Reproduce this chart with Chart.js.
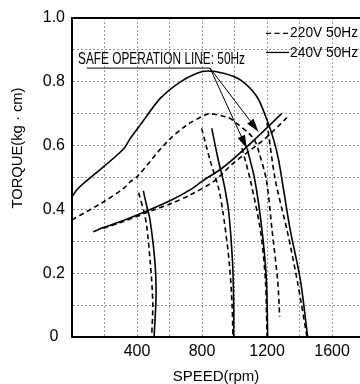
<!DOCTYPE html>
<html>
<head>
<meta charset="utf-8">
<script src="https://cdn.jsdelivr.net/npm/chart.js@4.4.1/dist/chart.umd.min.js"></script>
<style>
  html, body { margin: 0; padding: 0; background: #fff; }
  #wrap { width: 360px; height: 384px; }
</style>
</head>
<body>
<div id="wrap"><canvas id="torqueChart"></canvas></div>
<script>
const seriesLabels = ["220V 50Hz", "240V 50Hz"];
const safeLabel = "SAFE OPERATION LINE: 50Hz";

const speedGrid = [0, 200, 400, 600, 800, 1000, 1200, 1400, 1600];
const speedTicks = [400, 800, 1200, 1600];
const torqueTicks = [0, 0.2, 0.4, 0.6, 0.8, 1.0];
const torqueTickLabels = ["0", "0.2", "0.4", "0.6", "0.8", "1.0"];

// maximum torque curves (rpm / kg·cm)
const max240Speed = [0, 40, 195, 318, 359, 420, 543, 667, 769, 833, 932, 1036, 1138, 1200, 1241, 1271, 1302, 1343, 1405, 1450];
const max240Torque = [0.44, 0.467, 0.534, 0.59, 0.623, 0.665, 0.748, 0.80, 0.827, 0.834, 0.827, 0.806, 0.753, 0.68, 0.618, 0.555, 0.461, 0.335, 0.179, 0];
const max220Speed = [0, 195, 318, 359, 400, 585, 708, 821, 852, 964, 1025, 1087, 1128, 1150, 1196, 1231, 1265, 1278];
const max220Torque = [0.367, 0.424, 0.466, 0.487, 0.502, 0.612, 0.665, 0.696, 0.70, 0.687, 0.665, 0.639, 0.612, 0.58, 0.492, 0.335, 0.179, 0.064];

// safe operation lines
const safe240Speed = [131, 193, 295, 460, 603, 726, 810, 923, 1077, 1290];
const safe240Torque = [0.33, 0.343, 0.361, 0.395, 0.427, 0.461, 0.492, 0.529, 0.597, 0.70];
const safe220Speed = [193, 295, 501, 603, 726, 870, 993, 1179, 1327];
const safe220Torque = [0.341, 0.358, 0.398, 0.417, 0.445, 0.487, 0.545, 0.618, 0.69];

// speed-torque curves at each setting
const load500s240 = [439, 460, 480, 511, 517, 505];
const load500t240 = [0.458, 0.41, 0.367, 0.231, 0.126, 0];
const load500s220 = [410, 445, 460, 482, 497, 490];
const load500t220 = [0.452, 0.388, 0.346, 0.231, 0.106, 0];
const load1000s240 = [860, 900, 935, 965, 988, 995, 995];
const load1000t240 = [0.654, 0.555, 0.48, 0.388, 0.231, 0.1, 0];
const load1000s220 = [798, 849, 900, 930, 968, 985, 990];
const load1000t220 = [0.654, 0.555, 0.47, 0.388, 0.231, 0.1, 0];
const load1200s240 = [1077, 1125, 1169, 1196, 1204];
const load1200t240 = [0.592, 0.492, 0.335, 0.179, 0];
const load1200s220 = [1046, 1097, 1159, 1190, 1200];
const load1200t220 = [0.592, 0.492, 0.335, 0.179, 0];
const load1450s220 = [1200, 1251, 1323, 1385, 1446];
const load1450t220 = [0.672, 0.492, 0.335, 0.179, 0];

// leader lines of the safe operation note
const leaderASpeed = [92, 849, 1146];
const leaderATorque = [0.843, 0.843, 0.644];
const leaderBSpeed = [849, 1075];
const leaderBTorque = [0.843, 0.592];

const DASH = [5, 3.5];
const FONT = "'Liberation Sans', Arial, sans-serif";

function pts(xs, ys) {
  return xs.map((x, i) => ({ x: x, y: ys[i] }));
}

function curve(xs, ys, dashed, label) {
  return {
    label: label || "",
    data: pts(xs, ys),
    showLine: true,
    borderColor: "#000",
    borderWidth: 1.6,
    borderDash: dashed ? DASH : [],
    pointRadius: 0,
    tension: 0.3,
    fill: false,
  };
}

function leader(xs, ys) {
  return {
    data: pts(xs, ys),
    showLine: true,
    borderColor: "#000",
    borderWidth: 1,
    pointRadius: 0,
    tension: 0,
    arrow: true,
  };
}

function drawCondensed(ctx, text, x, y, size, width, rot) {
  ctx.save();
  ctx.font = size + "px " + FONT;
  const w = ctx.measureText(text).width;
  ctx.translate(x, y);
  if (rot) ctx.rotate(rot);
  ctx.scale(width / w, 1);
  ctx.fillStyle = "#000";
  ctx.textBaseline = "middle";
  ctx.textAlign = rot ? "center" : "left";
  ctx.fillText(text, 0, 0);
  ctx.restore();
}

const annotate = {
  id: "annotate",
  afterDatasetsDraw(chart) {
    const { ctx, chartArea } = chart;
    const xs = chart.scales.x;
    const ys = chart.scales.y;

    // top frame
    ctx.save();
    ctx.strokeStyle = "#000";
    ctx.lineWidth = 2;
    ctx.beginPath();
    ctx.moveTo(chartArea.left - 1, chartArea.top);
    ctx.lineTo(chartArea.right, chartArea.top);
    ctx.stroke();
    ctx.restore();

    // arrow heads
    chart.data.datasets.forEach((ds, i) => {
      if (!ds.arrow) return;
      const p = chart.getDatasetMeta(i).data;
      const a = p[p.length - 2];
      const b = p[p.length - 1];
      const ang = Math.atan2(b.y - a.y, b.x - a.x);
      ctx.save();
      ctx.translate(b.x, b.y);
      ctx.rotate(ang);
      ctx.beginPath();
      ctx.moveTo(0, 0);
      ctx.lineTo(-13, -4);
      ctx.lineTo(-13, 4);
      ctx.closePath();
      ctx.fillStyle = "#000";
      ctx.fill();
      ctx.restore();
    });

    // note text
    drawCondensed(ctx, safeLabel, xs.getPixelForValue(37), ys.getPixelForValue(0.871), 16, 167);

    // legend
    const rows = [
      { label: seriesLabels[0], y: 0.952, dash: DASH },
      { label: seriesLabels[1], y: 0.892, dash: [] },
    ];
    rows.forEach((r) => {
      const py = ys.getPixelForValue(r.y);
      ctx.save();
      ctx.strokeStyle = "#000";
      ctx.lineWidth = 1.3;
      ctx.setLineDash(r.dash);
      ctx.beginPath();
      ctx.moveTo(xs.getPixelForValue(1194), py);
      ctx.lineTo(xs.getPixelForValue(1335), py);
      ctx.stroke();
      ctx.restore();
      drawCondensed(ctx, r.label, xs.getPixelForValue(1342), py, 15, 68);
    });

    // y title
    drawCondensed(ctx, "TORQUE(kg · cm)", 18, 148, 15, 121, -Math.PI / 2);
  },
};

const ctx = document.getElementById("torqueChart");

new Chart(ctx, {
  type: "scatter",
  data: {
    datasets: [
      curve(max220Speed, max220Torque, true, seriesLabels[0]),
      curve(max240Speed, max240Torque, false, seriesLabels[1]),
      curve(safe220Speed, safe220Torque, true),
      curve(safe240Speed, safe240Torque, false),
      curve(load500s220, load500t220, true),
      curve(load500s240, load500t240, false),
      curve(load1000s220, load1000t220, true),
      curve(load1000s240, load1000t240, false),
      curve(load1200s220, load1200t220, true),
      curve(load1200s240, load1200t240, false),
      curve(load1450s220, load1450t220, true),
      leader(leaderASpeed, leaderATorque),
      leader(leaderBSpeed, leaderBTorque),
    ],
  },
  options: {
    responsive: true,
    maintainAspectRatio: false,
    animation: false,
    devicePixelRatio: 1,
    layout: { padding: { top: 18, right: 0, left: 0, bottom: 0 } },
    plugins: {
      legend: { display: false },
      tooltip: { enabled: false },
    },
    scales: {
      x: {
        type: "linear",
        min: 0,
        max: 1772,
        afterBuildTicks: (scale) => {
          scale.ticks = speedGrid.map((v) => ({ value: v }));
        },
        afterFit: (scale) => {
          scale.height = 47;
        },
        grid: {
          color: "#9a9a9a",
          lineWidth: 1,
          drawTicks: false,
        },
        border: { color: "#000", width: 2, dash: [2, 2] },
        ticks: {
          autoSkip: false,
          maxRotation: 0,
          padding: 5,
          color: "#000",
          font: { size: 16, family: FONT },
          callback: (v) => (speedTicks.includes(v) ? String(v) : ""),
        },
        title: {
          display: true,
          text: "SPEED(rpm)",
          color: "#000",
          padding: { top: 0, bottom: 0 },
          font: { size: 15, lineHeight: 1, family: FONT },
        },
      },
      y: {
        type: "linear",
        min: 0,
        max: 1.0,
        afterFit: (scale) => {
          scale.width = 72;
        },
        grid: {
          color: "#9a9a9a",
          lineWidth: 1,
          drawTicks: false,
        },
        border: { color: "#000", width: 2, dash: [2, 2] },
        ticks: {
          stepSize: 0.1,
          autoSkip: false,
          padding: 7,
          crossAlign: "center",
          color: "#000",
          font: { size: 16, family: FONT },
          callback: (v) => {
            const k = torqueTicks.findIndex((t) => Math.abs(t - v) < 1e-6);
            return k >= 0 ? torqueTickLabels[k] : "";
          },
        },
      },
    },
  },
  plugins: [annotate],
});
</script>
</body>
</html>
